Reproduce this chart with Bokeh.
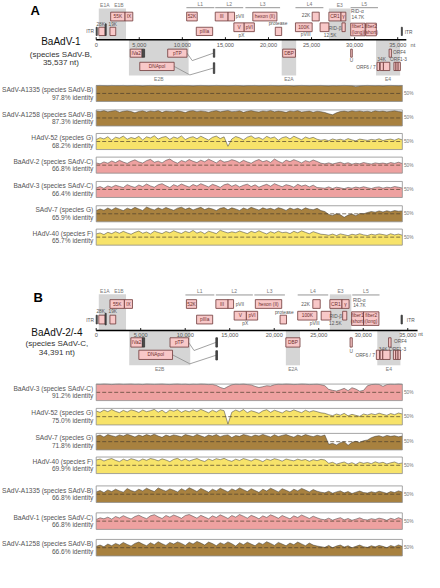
import numpy as np
from bokeh.plotting import figure
from bokeh.models import Range1d, ColumnDataSource
from bokeh.core.properties import value
from bokeh.embed import file_html
from bokeh.resources import INLINE

# ======================= DATA =======================
GENOME_A = "BaAdV-1"
SPECIES_A = "(species SAdV-B,"
LENGTH_A = 35537
LENGTH_A_TEXT = "35,537 nt)"
GENOME_B = "BaAdV-2/-4"
SPECIES_B = "(species SAdV-C,"
LENGTH_B = 34391
LENGTH_B_TEXT = "34,391 nt)"

TICK_VALUES = [0, 5000, 10000, 15000, 20000, 25000, 30000, 35000]
TICK_LABELS = ["0", "5,000", "10,000", "15,000", "20,000", "25,000", "30,000", "35,000"]

GENE_NAMES = ["ITR", "28K", "E1A", "19K", "55K", "IX", "52K", "III", "pVII", "hexon (II)",
              "22K", "CR1", "γ", "pIIIa", "V", "pVI", "protease", "100K", "12.5K", "RID-β",
              "fiber1", "fiber2", "ITR", "IVa2", "IVa2 exon", "pTP", "pTP/pol exon", "DBP", "U", "ORF4",
              "DNApol", "pTP/pol exon", "ORF6/7", "ORF6/7 exon", "34K", "ORF1", "ORF2", "ORF3"]
GENE_TRACK = ["c", "c", "g", "c", "a", "a", "a", "a", "a", "a",
              "a", "a", "a", "c", "b", "b", "c", "b", "b", "b",
              "f", "f", "c", "d", "d", "d", "d", "d", "d", "d",
              "e", "e2", "e", "e", "e", "e", "e", "e"]
GENE_KIND = ["dark", "box", "dark", "box", "lab", "lab", "lab", "lab", "box", "lab",
             "box", "lab", "lab", "lab", "lab", "lab", "box", "lab", "box", "box",
             "lab", "lab", "dark", "lab", "dark", "lab", "dark", "lab", "box", "box",
             "lab", "dark", "box", "box", "box", "box", "box", "box"]
A_GENE_START = [0, 300, 1040, 1600, 1680, 3350, 10500, 13820, 15310, 18180,
                25070, 27010, 28420, 11620, 15980, 17180, 20790, 23130, 25990, 28530,
                29540, 31290, 35420, 3950, 5330, 8300, 13600, 21650, 29540, 34000,
                5060, 13600, 32600, 32970, 33340, 34560, 34800, 35050]
A_GENE_END = [120, 1040, 1160, 2270, 3350, 4250, 11730, 15310, 16060, 20980,
              25890, 28420, 28980, 13520, 17180, 18360, 21530, 25070, 27010, 28910,
              31210, 32520, 35537, 5330, 5620, 10540, 13760, 23130, 29730, 34270,
              9050, 13760, 32890, 33340, 34080, 34800, 35050, 35310]
A_FIBER_LABELS = ["fiber1\n(long)", "fiber2\n(short)"]
B_GENE_START = [0, 292, 1006, 1547, 1547, 3169, 10134, 13443, 14817, 17877,
                24334, 26248, 27611, 11280, 15498, 16871, 20657, 22636, 25274, 27686,
                28692, 30033, 34250, 3893, 5190, 8295, 13443, 21306, 28519, 32845,
                4791, 13443, 31472, 31900, 32196, 33386, 33650, 33910]
B_GENE_END = [120, 1006, 1120, 2195, 3169, 4077, 11280, 14817, 15433, 20841,
              25167, 27611, 28411, 13086, 16871, 18137, 21382, 24799, 26356, 28151,
              30033, 31764, 34391, 5190, 5440, 10382, 13627, 22896, 28768, 33126,
              8576, 13627, 31829, 32196, 33018, 33650, 33910, 34175]
B_FIBER_LABELS = ["fiber1\n(short)", "fiber2\n(long)"]

REGION_NAMES = ["E1", "E2B", "E2A", "E3", "E4"]
REGION_SIDE = ["above", "below", "below", "above", "below"]
A_REGION_START = [302, 3800, 21534, 27010, 32486]
A_REGION_END = [3464, 10728, 23210, 29535, 35280]
B_REGION_START = [292, 3710, 21306, 26248, 31577]
B_REGION_END = [3353, 10566, 22896, 28660, 34175]

LATE_NAMES = ["L1", "L2", "L3", "L4", "L5"]
A_LATE_START = [10471, 13823, 17321, 23132, 29535]
A_LATE_END = [13712, 17064, 21344, 26373, 32709]
B_LATE_START = [10025, 13443, 17769, 22636, 28768]
B_LATE_END = [13270, 17596, 21198, 26064, 31829]

A_REF_NAMES = ["SAdV-A1335 (species SAdV-B)", "SAdV-A1258 (species SAdV-B)", "HAdV-52 (species G)",
               "BaAdV-2 (species SAdV-C)", "BaAdV-3 (species SAdV-C)", "SAdV-7 (species G)",
               "HAdV-40 (species F)"]
A_REF_IDENTITY = [97.8, 87.3, 68.2, 66.8, 66.4, 65.9, 65.7]
B_REF_NAMES = ["BaAdV-3 (species SAdV-C)", "HAdV-52 (species G)", "SAdV-7 (species G)",
               "HAdV-40 (species F)", "SAdV-A1335 (species SAdV-B)", "BaAdV-1 (species SAdV-C)",
               "SAdV-A1258 (species SAdV-B)"]
B_REF_IDENTITY = [91.2, 75.0, 71.8, 69.9, 66.8, 66.8, 66.6]

# sliding-window identity (%) along the genome
A_SADV_A1335 = [99,100,99,98,100,99,99,100,98,99, 100,99,97,99,100,99,98,99,100,99,
                98,99,100,99,99,97,99,100,99,98, 99,100,99,99,98,99,100,99,97,99,
                99,100,98,99,99,100,99,98,99,100, 99,97,99,100,99,98,99,99,100,98,
                97,99,98,99,100,99,98,92,97,99, 100,99,98,99,97,99,100,99,98,99]
A_SADV_A1258 = [94,90,96,88,93,97,86,92,95,90, 82,91,95,87,94,90,96,85,93,91,
                88,95,90,84,93,96,89,94,91,86, 92,96,88,93,97,89,91,95,85,92,
                96,90,87,94,91,97,88,93,90,85, 94,91,96,87,90,93,86,92,89,84,
                76,70,82,90,93,88,95,91,94,89, 92,87,95,90,93,88,92,95,90,87]
A_HADV_52 = [62,74,66,80,58,77,70,84,64,75, 68,82,60,79,72,86,65,76,81,63,
             78,70,85,62,74,80,67,83,71,59, 76,84,68,79,20,66,81,73,60,77,
             85,69,75,63,82,71,78,58,74,80, 66,83,72,61,78,69,76,64,58,62,
             55,66,59,64,57,68,60,54,65,61, 57,63,59,67,56,62,65,58,68,60]
A_BAADV_2 = [64,58,70,62,76,66,80,69,61,74, 83,70,63,78,86,68,75,64,80,88,
             72,62,79,70,85,74,66,81,71,87, 76,64,82,69,73,84,77,65,80,70,
             62,76,85,71,79,67,88,74,63,81, 72,84,75,64,78,70,82,73,62,58,
             64,57,63,68,59,65,56,62,58,66, 61,57,64,60,63,58,66,61,68,60]
A_BAADV_3 = [60,68,57,72,64,76,69,62,80,70, 63,78,68,84,72,64,79,86,73,62,
             80,70,84,74,65,81,71,86,76,66, 82,74,63,79,85,70,80,66,76,83,
             68,79,64,74,82,70,86,76,67,80, 74,64,82,71,78,66,77,62,60,58,
             66,56,64,60,55,63,58,65,60,67, 61,56,63,66,58,64,61,68,64,59]
A_SADV_7 = [70,80,72,86,74,88,79,70,85,76, 90,80,71,92,82,74,87,77,89,80,
            72,85,91,78,87,74,83,90,76,86, 80,70,84,89,75,87,80,71,86,77,
            90,82,73,87,79,84,75,88,81,71, 86,77,84,74,87,79,75,84,70,64,
            46,40,50,44,28,42,48,38,52,50, 58,64,60,68,61,69,63,70,66,68]
A_HADV_40 = [70,76,66,80,72,84,74,86,76,68, 80,88,74,82,70,87,79,72,85,77,
             90,80,73,86,78,92,75,84,71,87, 80,72,93,84,76,83,78,88,80,72,
             86,78,90,79,70,84,75,87,78,81, 72,86,77,89,80,71,84,76,68,66,
             62,69,60,70,65,59,68,63,71,64, 60,68,63,70,66,61,71,64,69,62]
A_PROFILES = [A_SADV_A1335, A_SADV_A1258, A_HADV_52, A_BAADV_2, A_BAADV_3, A_SADV_7, A_HADV_40]

B_BAADV_3 = [99,98,100,99,97,99,100,98,99,100, 98,99,97,100,99,98,99,100,98,97,
             99,100,98,99,97,99,98,100,99,97, 98,92,80,72,85,96,99,98,100,97,
             95,86,79,84,90,88,96,99,98,100, 99,97,98,100,99,97,98,99,96,90,
             68,62,58,65,74,60,78,70,57,62, 90,97,99,98,86,97,99,98,100,98]
B_HADV_52 = [84,76,90,80,93,82,74,88,78,91, 85,75,90,80,86,94,77,89,72,90,
             83,92,76,87,79,91,81,94,84,73, 89,78,92,86,5,77,90,80,93,74,
             86,79,70,85,92,76,89,81,72,87, 80,91,82,74,89,78,86,80,73,70,
             62,56,66,59,70,55,64,58,52,66, 60,68,62,71,64,58,69,62,72,66]
B_SADV_7 = [84,90,78,93,86,80,91,84,95,87, 78,90,82,93,85,95,84,76,90,82,
            91,86,79,93,87,81,94,85,77,90, 84,93,80,88,91,75,87,82,93,88,
            80,90,84,94,86,78,92,81,88,93, 84,77,90,82,93,86,80,89,83,90,
            34,40,30,44,50,28,46,52,45,56, 60,74,82,86,78,88,82,86,79,84]
B_HADV_40 = [82,88,76,85,91,80,72,87,78,90, 84,75,88,80,91,86,77,89,82,72,
             86,92,78,88,76,84,91,80,73,88, 79,90,84,92,81,74,87,79,91,84,
             76,88,82,72,87,80,90,84,75,88, 82,77,87,80,85,74,84,78,86,82,
             62,68,57,64,70,58,66,55,69,62, 67,60,71,63,68,58,65,70,60,64]
B_SADV_A1335 = [64,72,60,76,66,80,70,62,84,72, 65,80,70,86,75,66,88,77,68,82,
                74,64,83,71,89,78,66,85,74,62, 80,70,86,75,64,82,72,88,77,66,
                83,72,61,80,69,86,76,64,83,74, 63,80,70,85,75,64,78,68,62,58,
                68,56,64,70,58,66,54,62,69,60, 57,65,59,68,62,55,66,60,70,63]
B_BAADV_1 = [60,70,64,74,62,78,69,83,72,63, 78,86,74,65,82,89,76,66,84,74,
             87,78,67,84,90,79,68,85,75,64, 82,72,88,78,66,84,74,90,80,68,
             85,76,64,82,72,88,79,67,84,74, 64,82,72,87,77,66,80,70,62,58,
             68,56,64,71,58,66,55,62,70,60, 57,65,60,68,63,55,67,60,71,62]
B_SADV_A1258 = [58,66,56,72,62,76,66,82,70,60, 76,84,72,62,80,68,86,74,64,82,
                72,85,76,64,83,72,88,78,66,84, 75,62,80,70,85,74,60,80,68,83,
                72,62,80,70,86,76,64,82,72,62, 78,68,84,73,62,78,66,60,56,52,
                64,50,60,66,54,62,50,58,66,56, 52,62,55,64,58,50,63,56,67,58]
B_PROFILES = [B_BAADV_3, B_HADV_52, B_SADV_7, B_HADV_40, B_SADV_A1335, B_BAADV_1, B_SADV_A1258]

# ======================= LAYOUT / STYLE =======================
W, H = 424, 572
REF_W, REF_H = 440.0, 588.0
AX_X0, AX_X1 = 99.3, 417.0
FONT = value("Liberation Sans")

HOST_COLOR = {"HAdV": "#f7e36a", "BaAdV": "#eea1a0", "SAdV": "#a8813f"}
GENE_FILL, GENE_LINE, GENE_TEXT = "#f8c8c8", "#6e3838", "#6e2e2e"
SHADE = "#d5d5d5"


def nt_of(px, L):
    return (px - AX_X0) * L / (AX_X1 - AX_X0)


PANELS = [
    dict(xr="default", L=LENGTH_A, starts=A_GENE_START, ends=A_GENE_END, fibers=A_FIBER_LABELS,
         rstart=A_REGION_START, rend=A_REGION_END, lstart=A_LATE_START, lend=A_LATE_END,
         refs=A_REF_NAMES, ident=A_REF_IDENTITY, profiles=A_PROFILES,
         name=GENOME_A, species=SPECIES_A, length=LENGTH_A_TEXT, letter="A",
         letter_xy=(36, 10.5), name_x=62.7, name_y=(41.7, 55.0, 63.3),
         axis_y=40.3, axis_end=36000, tick_y=45.5, nt_xy=(425.5, 46.0),
         above_top=8.3, below_bottom=77.0, top_label_y=4.2, late_line_y=7.4,
         tracks={"a": (12, 21), "b": (23, 32), "c": (27.5, 36), "f": (23.3, 36.3), "g": (24, 36),
                 "d": (50, 58.3), "e": (63.5, 72), "e2": (64, 75)},
         strip_tops=[87.3, 112.5, 136.7, 161.0, 186.0, 211.0, 235.0], strip_h=16.5,
         out=[("ITR", 97, 32.3, "right"), ("28K", 104, 24.3, "center"), ("19K", 116.5, 24.3, "center"),
              ("pVII", 244, 16.0, "left"), ("pX", 250, 36.0, "center"), ("protease", 288, 24.0, "center"),
              ("22K", 321.5, 15.7, "right"), ("pVIII", 316.7, 34.5, "center"), ("12.5K", 342, 35.8, "center"),
              ("RID-β", 353.8, 29.0, "right"), ("RID-α", 363.8, 11.7, "left"), ("14.7K", 364.3, 17.3, "left"),
              ("ITR", 419.5, 32.7, "left"), ("U", 364.2, 61.5, "center"), ("ORF4", 407.3, 53.0, "left"),
              ("ORF6 / 7", 389.3, 69.0, "right"), ("34K", 395.5, 61.0, "center"), ("ORF1-3", 413, 61.0, "center")]),
    dict(xr="B", L=LENGTH_B, starts=B_GENE_START, ends=B_GENE_END, fibers=B_FIBER_LABELS,
         rstart=B_REGION_START, rend=B_REGION_END, lstart=B_LATE_START, lend=B_LATE_END,
         refs=B_REF_NAMES, ident=B_REF_IDENTITY, profiles=B_PROFILES,
         name=GENOME_B, species=SPECIES_B, length=LENGTH_B_TEXT, letter="B",
         letter_xy=(39, 305.3), name_x=58.5, name_y=(341.0, 352.7, 361.7),
         axis_y=339.3, axis_end=36100, tick_y=343.8, nt_xy=(433.5, 343.0),
         above_top=302.0, below_bottom=375.0, top_label_y=299.0, late_line_y=302.7,
         tracks={"a": (307.5, 316.5), "b": (319.5, 328.5), "c": (323.5, 332.5), "f": (320, 334),
                 "g": (321.5, 333.5), "d": (346.7, 356.3), "e": (359.5, 369), "e2": (360, 369.5)},
         strip_tops=[394.3, 419.3, 445.0, 469.3, 499.0, 526.7, 554.0], strip_h=17.0,
         out=[("ITR", 97, 329.3, "right"), ("28K", 104, 320.0, "center"), ("19K", 116.5, 320.0, "center"),
              ("pVII", 244, 312.7, "left"), ("pX", 254, 332.5, "center"), ("protease", 294.5, 320.7, "center"),
              ("22K", 321, 312.7, "right"), ("pVIII", 326, 332.5, "center"), ("12.5K", 347.5, 332.5, "center"),
              ("RID-β", 354.5, 325.0, "right"), ("RID-α", 365.7, 308.3, "left"), ("14.7K", 366, 314.0, "left"),
              ("ITR", 421.7, 329.3, "left"), ("U", 364, 360.5, "center"), ("ORF4", 408.3, 351.0, "left"),
              ("ORF6 / 7", 388.5, 365.0, "right"), ("34K", 397, 359.0, "center"), ("ORF1-3", 412, 359.0, "center")]),
]

p = figure(width=W, height=H,
           x_range=Range1d(nt_of(0, LENGTH_A), nt_of(REF_W, LENGTH_A)),
           y_range=Range1d(REF_H, 0),
           output_backend="svg", toolbar_location=None,
           x_axis_type=None, y_axis_type=None, min_border=0,
           outline_line_color=None, background_fill_color="white", border_fill_color="white")

extra_x = {"B": Range1d(nt_of(0, LENGTH_B), nt_of(REF_W, LENGTH_B))}
extra_y = {}
for P in PANELS:
    for i, T in enumerate(P["strip_tops"]):
        Bt = T + P["strip_h"]
        extra_y[f"{P['letter']}{i}"] = Range1d(100 * (Bt - REF_H) / (Bt - T), 100 * Bt / (Bt - T))
p.extra_x_ranges = extra_x
p.extra_y_ranges = extra_y


def txt(xs, ys, texts, size, color="#444444", align="center", baseline="middle",
        xr="default", yr="default", style="normal"):
    src = ColumnDataSource(dict(x=list(xs), y=list(ys), t=list(texts)))
    p.text("x", "y", "t", source=src, text_font=FONT, text_font_size=f"{size}px",
           text_color=color, text_align=align, text_baseline=baseline,
           text_font_style=style, x_range_name=xr, y_range_name=yr)


for P in PANELS:
    xr, L, ay = P["xr"], P["L"], P["axis_y"]
    tr = P["tracks"]

    # shaded transcription regions
    for nm, side, s, e in zip(REGION_NAMES, REGION_SIDE, P["rstart"], P["rend"]):
        top, bot = (P["above_top"], ay) if side == "above" else (ay, P["below_bottom"])
        p.quad(left=[s], right=[e], top=[top], bottom=[bot], fill_color=SHADE,
               line_color=None, x_range_name=xr)
        if side == "below":
            txt([(s + e) / 2], [P["below_bottom"] + 3.6], [nm], 5, "#777777", xr=xr)
        elif nm == "E3":
            txt([(s + e) / 2], [P["top_label_y"]], [nm], 5, "#777777", xr=xr)
        else:
            w = e - s
            txt([s + 0.22 * w, s + 0.74 * w], [P["top_label_y"]] * 2, ["E1A", "E1B"], 5, "#777777", xr=xr)

    # late transcription units
    p.segment(x0=P["lstart"], x1=P["lend"], y0=[P["late_line_y"]] * 5, y1=[P["late_line_y"]] * 5,
              line_color="#7a7a7a", line_width=0.8, x_range_name=xr)
    txt([(s + e) / 2 for s, e in zip(P["lstart"], P["lend"])], [P["late_line_y"] - 3.6] * 5,
        LATE_NAMES, 5, "#777777", xr=xr)

    # genome axis
    p.segment(x0=[0], x1=[P["axis_end"]], y0=[ay], y1=[ay], line_color="black", line_width=1.5, x_range_name=xr)
    p.segment(x0=TICK_VALUES, x1=TICK_VALUES, y0=[ay] * len(TICK_VALUES), y1=[ay - 2.6] * len(TICK_VALUES),
              line_color="black", line_width=0.9, x_range_name=xr)
    txt(TICK_VALUES, [P["tick_y"]] * len(TICK_VALUES), TICK_LABELS, 5.6, "#555555", xr=xr)
    txt([nt_of(P["nt_xy"][0], L)], [P["nt_xy"][1]], ["nt"], 5.6, "#555555", align="left", xr=xr)

    # splice chevrons (pTP and DNApol to their distant exon)
    i_ptp, i_pol = GENE_NAMES.index("pTP"), GENE_NAMES.index("DNApol")
    ex = [i for i, n in enumerate(GENE_NAMES) if n == "pTP/pol exon"]
    for gi, xi, frac, drop in [(i_ptp, ex[0], 0.2, 3.5), (i_pol, ex[1], 0.4, 4.5)]:
        g0 = P["ends"][gi]
        g1 = P["starts"][xi]
        yt = tr[GENE_TRACK[gi]]
        ye = tr[GENE_TRACK[xi]]
        p.line([g0, g0 + frac * (g1 - g0), g1],
               [(yt[0] + yt[1]) / 2, yt[1] + drop, (ye[0] + ye[1]) / 2],
               line_color="#8a8a8a", line_width=0.8, x_range_name=xr)

    # genes
    tops = [tr[t][0] for t in GENE_TRACK]
    bots = [tr[t][1] for t in GENE_TRACK]
    fills = [("#4a4a4a" if k == "dark" else GENE_FILL) for k in GENE_KIND]
    lines = [("#333333" if k == "dark" else GENE_LINE) for k in GENE_KIND]
    src = ColumnDataSource(dict(l=P["starts"], r=P["ends"], t=tops, b=bots, f=fills, lc=lines))
    p.quad(left="l", right="r", top="t", bottom="b", fill_color="f", line_color="lc",
           line_width=0.8, source=src, x_range_name=xr)
    lx, ly, lt = [], [], []
    for n, s, e, t, b, k in zip(GENE_NAMES, P["starts"], P["ends"], tops, bots, GENE_KIND):
        if k != "lab":
            continue
        if n == "fiber1":
            n = P["fibers"][0]
        elif n == "fiber2":
            n = P["fibers"][1]
        lx.append((s + e) / 2)
        ly.append((t + b) / 2)
        lt.append(n)
    txt(lx, ly, lt, 4.8, GENE_TEXT, xr=xr)

    # outside gene labels
    for label, px, py, al in P["out"]:
        txt([nt_of(px, L)], [py], [label], 4.8, "#555555", align=al, xr=xr)

    # genome name block
    lx0, ly0 = P["letter_xy"]
    txt([nt_of(lx0, L)], [ly0], [P["letter"]], 13, "black", xr=xr, style="bold")
    nx = nt_of(P["name_x"], L)
    txt([nx], [P["name_y"][0]], [P["name"]], 10, "#111111", xr=xr)
    txt([nx, nx], list(P["name_y"][1:]), [P["species"], P["length"]], 8, "#333333", xr=xr)

    # identity strips
    for i, (nm, idv, prof, T) in enumerate(zip(P["refs"], P["ident"], P["profiles"], P["strip_tops"])):
        yr = f"{P['letter']}{i}"
        host = nm.split("-")[0]
        col = HOST_COLOR[host]
        xs = np.linspace(0, L, len(prof))
        p.quad(left=[0], right=[L], bottom=[0], top=[100], fill_color="white", line_color=None,
               x_range_name=xr, y_range_name=yr)
        p.varea(x=xs, y1=np.zeros(len(prof)), y2=prof, fill_color=col, x_range_name=xr, y_range_name=yr)
        p.line(xs, prof, line_color="#3a3a3a", line_width=0.5, x_range_name=xr, y_range_name=yr)
        p.line([0, L], [50, 50], line_color="#4e3f2c", line_width=0.7, line_dash="4 2",
               x_range_name=xr, y_range_name=yr)
        p.quad(left=[0], right=[L], bottom=[0], top=[100], fill_color=None, line_color="#8e8e8e",
               line_width=0.8, x_range_name=xr, y_range_name=yr)
        txt([nt_of(418.6, L)], [50], ["50%"], 4.8, "#777777", align="left", xr=xr, yr=yr)
        txt([nt_of(96.3, L)] * 2, [T + 4.3, T + 12.0], [nm, f"{idv:.1f}% identity"], 6.6, "#555555",
            align="right", xr=xr)

open("out.html", "w").write(file_html(p, INLINE))
